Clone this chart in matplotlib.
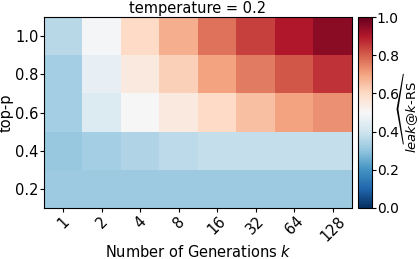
import numpy as np
import matplotlib
matplotlib.use("Agg")
import matplotlib.pyplot as plt

k_labels = ["1", "2", "4", "8", "16", "32", "64", "128"]
top_p = [0.2, 0.4, 0.6, 0.8, 1.0]
row_p02 = [0.32, 0.32, 0.32, 0.32, 0.32, 0.32, 0.32, 0.32]
row_p04 = [0.31, 0.33, 0.35, 0.37, 0.38, 0.38, 0.38, 0.38]
row_p06 = [0.33, 0.43, 0.50, 0.55, 0.60, 0.65, 0.70, 0.73]
row_p08 = [0.33, 0.46, 0.55, 0.62, 0.70, 0.76, 0.81, 0.86]
row_p10 = [0.36, 0.49, 0.60, 0.68, 0.77, 0.84, 0.90, 0.95]

data = np.array([row_p02, row_p04, row_p06, row_p08, row_p10])

fs = 10.5
fig = plt.figure(figsize=(4.19, 2.59), dpi=100)
ax = fig.add_axes([0.105, 0.197, 0.735, 0.737])
cax = fig.add_axes([0.854, 0.197, 0.034, 0.737])

im = ax.imshow(data, cmap="RdBu_r", vmin=0, vmax=1, origin="lower", aspect="auto",
               extent=[-0.5, len(k_labels) - 0.5, 0.1, 1.1])
ax.set_xticks(range(len(k_labels)))
ax.set_xticklabels(k_labels, rotation=45, fontsize=fs)
ax.set_yticks(top_p)
ax.set_yticklabels([f"{p:.1f}" for p in top_p], fontsize=fs)
ax.tick_params(axis="both", pad=1, length=3)
ax.set_xlabel(r"Number of Generations $k$", fontsize=fs, labelpad=0)
ax.set_ylabel("top-p", fontsize=fs, labelpad=1)
ax.set_title("temperature = 0.2", fontsize=fs, pad=3)

cb = fig.colorbar(im, cax=cax)
cb.set_ticks([0.0, 0.2, 0.4, 0.6, 0.8, 1.0])
cb.ax.tick_params(labelsize=10, pad=0.5, length=3)
cb.set_label(r"$\widehat{leak@k\text{-RS}}$", fontsize=9.5)
cb.ax.yaxis.set_label_coords(2.68, 0.5)

fig.savefig("out.png", dpi=100)
